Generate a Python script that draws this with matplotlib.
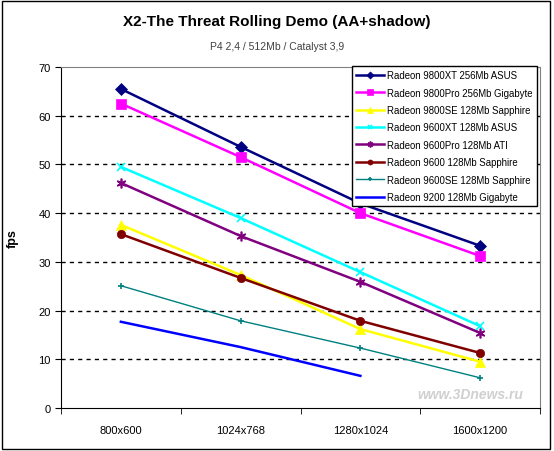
import matplotlib
matplotlib.use("Agg")
import matplotlib.pyplot as plt
import numpy as np

plt.rcParams['font.family'] = ['Liberation Sans', 'DejaVu Sans']

categories = ["800x600", "1024x768", "1280x1024", "1600x1200"]
series_names = [
    "Radeon 9800XT 256Mb ASUS",
    "Radeon 9800Pro 256Mb Gigabyte",
    "Radeon 9800SE 128Mb Sapphire",
    "Radeon 9600XT 128Mb ASUS",
    "Radeon 9600Pro 128Mb ATI",
    "Radeon 9600 128Mb Sapphire",
    "Radeon 9600SE 128Mb Sapphire",
    "Radeon 9200 128Mb Gigabyte",
]
r9800xt = [65.5, 53.6, 42.0, 33.3]
r9800pro = [62.5, 51.5, 40.0, 31.2]
r9800se = [37.6, 27.3, 16.2, 9.5]
r9600xt = [49.5, 39.0, 27.9, 16.8]
r9600pro = [46.2, 35.3, 25.9, 15.4]
r9600 = [35.7, 26.7, 17.9, 11.3]
r9600se = [25.1, 17.9, 12.3, 6.2]
r9200 = [17.7, 12.5, 6.6, np.nan]
values = [r9800xt, r9800pro, r9800se, r9600xt, r9600pro, r9600, r9600se, r9200]

colors = ["#000080", "#FF00FF", "#FFFF00", "#00FFFF", "#800080", "#800000", "#008080", "#0000FF"]
markers = ["D", "s", "^", "x", (6, 2, 0), "o", "+", None]
msizes = [6, 7, 7, 6, 7, 6, 5, 0]
lwidths = [1.8, 1.8, 1.8, 1.8, 1.8, 1.8, 1, 1.8]

fig = plt.figure(figsize=(5.54, 4.52), dpi=100)
ax = fig.add_axes([61/554, 1-409/452, (540-61)/554, (409-68)/452])

x = np.arange(len(categories))
for name, vals, c, m, ms, lw in zip(series_names, values, colors, markers, msizes, lwidths):
    ax.plot(x, vals, color=c, marker=m, markersize=ms, linewidth=lw, label=name,
            markeredgewidth=1.2 if m in ("x", "+") or isinstance(m, tuple) else 0.5,
            markeredgecolor=c, markerfacecolor=c)

ax.set_xlim(-0.5, 3.5)
ax.set_ylim(0, 70)
ax.set_yticks(range(0, 71, 10))
ax.set_xticks(x)
ax.set_xticklabels(categories, fontsize=8)
ax.set_xticks(np.arange(-0.5, 3.6, 1), minor=True)
ax.tick_params(axis='x', which='major', length=0, pad=12)
ax.tick_params(axis='x', which='minor', length=4, direction='out')
ax.tick_params(axis='y', labelsize=8, length=4, direction='out')
for yv in range(10, 70, 10):
    ax.axhline(yv, color='black', linestyle=(0, (3, 3)), linewidth=1, zorder=0)
ax.spines['top'].set_color('#808080')
ax.spines['right'].set_color('#808080')
ax.set_ylabel("fps", fontsize=9, fontweight='bold', labelpad=14)

leg = ax.legend(loc='upper right', bbox_to_anchor=(0.994, 1.003), fontsize=6.9,
                frameon=True, fancybox=False, edgecolor='black', framealpha=1,
                handlelength=2.9, borderpad=0.45, labelspacing=0.77, handletextpad=0.35,
                markerscale=0.6, borderaxespad=0)
leg.get_frame().set_linewidth(1)

fig.text(0.5, 1-22/452, "X2-The Threat Rolling Demo (AA+shadow)", ha='center', va='center',
         fontsize=11, fontweight='bold')
fig.text(0.5, 1-47/452, "P4 2,4 / 512Mb / Catalyst 3,9", ha='center', va='center',
         fontsize=7.5, color='#404040')
fig.text(470/554, 1-395/452, "www.3Dnews.ru", ha='center', va='center', fontsize=10,
         color='#D0D0D0', style='italic', fontweight='bold')

fig.patches.append(plt.Rectangle((2/554, 2/452), 548/554, 448/452, transform=fig.transFigure,
                                 fill=False, edgecolor='black', linewidth=1))
fig.savefig("out.png", dpi=100)
